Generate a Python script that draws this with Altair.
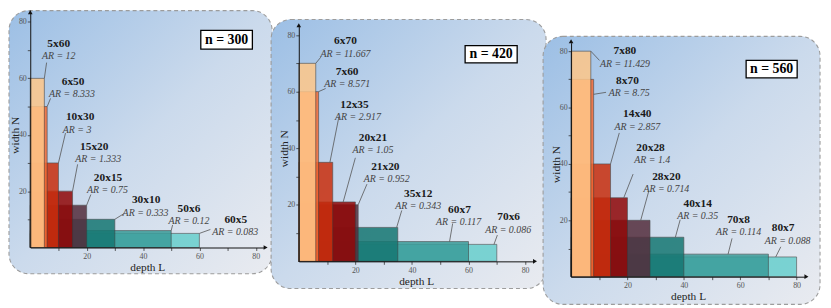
import altair as alt
import pandas as pd

# ---------------- data ----------------
panel_titles = ["n = 300", "n = 420", "n = 560"]

p1_L = [5, 6, 10, 15, 20, 30, 50, 60]
p1_N = [60, 50, 30, 20, 15, 10, 6, 5]
p1_AR = ["12", "8.333", "3", "1.333", "0.75", "0.333", "0.12", "0.083"]
p2_L = [6, 7, 12, 20, 21, 35, 60, 70]
p2_N = [70, 60, 35, 21, 20, 12, 7, 6]
p2_AR = ["11.667", "8.571", "2.917", "1.05", "0.952", "0.343", "0.117", "0.086"]
p3_L = [7, 8, 14, 20, 28, 40, 70, 80]
p3_N = [80, 70, 40, 28, 20, 14, 8, 7]
p3_AR = ["11.429", "8.75", "2.857", "1.4", "0.714", "0.35", "0.114", "0.088"]

tick_values = [10, 20, 30, 40, 50, 60, 70, 80]

bar_colors = ["#ffc789", "#f66b34", "#ca2f0e", "#910808", "#552e3d",
              "#167772", "#3b9d9a", "#68cfcd"]

# label anchors (data units)
p1_lx = [10.1, 15.2, 17.7, 22.7, 27.6, 41.1, 56.3, 72.9]
p1_ly = [72.2, 58.8, 46.2, 35.7, 24.8, 16.7, 13.8, 9.9]
p1_arx = [10.1, 14.8, 16.6, 24.1, 27.4, 40.9, 56.3, 72.7]
p1_sx = [5, 6, 10, 15, 20, 30, 50, 60]
p1_sy = [60, 50, 30, 20, 15, 10, 6, 5]
p1_ex = [5.8, 7.2, 12.5, 16.8, 21.5, 33.2, 50.5, 63.9]
p1_ey = [65.6, 52.9, 40.6, 29.5, 18.8, 12.0, 8.0, 6.4]

p2_lx = [16.5, 17.1, 19.7, 26.2, 30.6, 42.2, 56.8, 74.2]
p2_ly = [77.8, 67.0, 55.3, 43.6, 33.4, 23.8, 18.3, 15.5]
p2_arx = [16.5, 17.1, 20.9, 26.2, 31.1, 42.2, 56.5, 74.0]
p2_sx = [6, 7, 11, 15.7, 21, 34.6, 53.3, 69.0]
p2_sy = [70, 60, 35, 21, 20, 12, 7, 6]
p2_ex = [7.8, 9.5, 14.2, 20.0, 24.1, 36.4, 54.4, 70.2]
p2_ey = [72.2, 61.1, 51.2, 36.6, 27.3, 18.0, 13.4, 9.3]

p3_lx = [19.1, 20.0, 23.5, 28.2, 33.8, 44.9, 59.4, 75.2]
p3_ly = [80.0, 69.4, 57.6, 45.7, 35.4, 25.9, 20.2, 17.1]
p3_arx = [19.1, 20.6, 23.5, 28.8, 33.8, 44.9, 59.4, 76.8]
p3_sx = [7, 8, 14, 18.7, 24.7, 37.0, 55.7, 72.6]
p3_sy = [80, 64.7, 40, 28, 20, 14, 8, 7]
p3_ex = [10.1, 12.4, 17.1, 22.0, 27.6, 38.7, 57.1, 74.4]
p3_ey = [76.7, 65.4, 51.0, 36.4, 30.5, 20.2, 13.6, 10.6]

# "n = ..." box corners (data units): x1, x2, y1, y2
p1_box = [60.5, 78.8, 70.4, 77.0]
p2_box = [58.8, 77.2, 70.2, 76.3]
p3_box = [62.1, 80.2, 70.5, 76.7]

# ---------------- layout ----------------
H = 298
FONT = "Liberation Serif"
geo = [
    dict(w=265, ox=21.5, oy=239.5, s=2.85, bg=(0, 266, 0, 266)),
    dict(w=275, ox=28.0, oy=253.5, s=2.86, bg=(0, 278, 9, 281)),
    dict(w=283, ox=28.3, oy=269.0, s=2.85, bg=(0, 280, 26, 297)),
]
DMAX = 83

bg_fill = alt.LinearGradient(
    gradient="linear",
    stops=[alt.GradientStop(color="#9cbfe5", offset=0),
           alt.GradientStop(color="#cbdaec", offset=0.5),
           alt.GradientStop(color="#e9ebf0", offset=1)],
    x1=0, y1=0, x2=1, y2=1)


def panel(L, N, AR, lx, ly, arx, sx, sy, ex, ey, box, title, g):
    df = pd.DataFrame({
        "L": L, "N": N, "x0": 0, "y0": 0, "rank": list(range(len(L))),
        "name": [f"{a}x{b}" for a, b in zip(L, N)],
        "ar": ["AR = " + a for a in AR],
        "lx": lx, "ly": ly, "arx": arx, "sx": sx, "sy": sy, "ex": ex, "ey": ey,
    })
    sxs = alt.Scale(domain=[0, DMAX], range=[g["ox"], g["ox"] + DMAX * g["s"]])
    sys_ = alt.Scale(domain=[0, DMAX], range=[g["oy"], g["oy"] - DMAX * g["s"]])

    common_axis = dict(values=tick_values, grid=False, zindex=1,
                       labelExpr="datum.value % 20 == 0 ? datum.label : ''",
                       labelFont=FONT, labelFontSize=8, labelColor="#555",
                       titleFont=FONT, titleFontSize=11.5, titleFontWeight="normal",
                       titleColor="#222", domainColor="#111", domainWidth=1,
                       tickColor="#333", tickSize=3, tickWidth=0.8)
    ax_x = alt.Axis(title="depth L", offset=g["oy"] - H, titlePadding=1,
                    labelPadding=2, **common_axis)
    ax_y = alt.Axis(title="width N", offset=-g["ox"], labelPadding=1,
                    titleX=-14.5, titleY=g["oy"] - 40 * g["s"],
                    titleBaseline="middle", titleAngle=270, **common_axis)

    def X(f):
        return alt.X(f, type="quantitative", scale=sxs, axis=ax_x)

    def Y(f):
        return alt.Y(f, type="quantitative", scale=sys_, axis=ax_y)

    b = g["bg"]
    bg = alt.Chart(pd.DataFrame({"k": [0]})).mark_rect(
        fill=bg_fill, stroke="#9c9c9c", strokeDash=[4, 3], strokeWidth=1.1,
        cornerRadius=20).encode(
        x=alt.value(b[0]), x2=alt.value(b[1]), y=alt.value(b[2]), y2=alt.value(b[3]))

    bars = alt.Chart(df.iloc[::-1]).mark_rect(
        opacity=0.85, stroke="#3a3a3a", strokeWidth=0.8, strokeOpacity=0.8).encode(
        x=X("x0"), x2="L:Q", y=Y("y0"), y2="N:Q",
        color=alt.Color("rank:N", scale=alt.Scale(domain=list(range(8)), range=bar_colors),
                        legend=None),
    )

    leaders = alt.Chart(df).mark_rule(color="#555", strokeWidth=0.8).encode(
        x=X("sx"), y=Y("sy"), x2="ex:Q", y2="ey:Q")

    names = alt.Chart(df).mark_text(font=FONT, fontSize=11.5, fontWeight="bold",
                                    color="#1a1a1a", baseline="middle").encode(
        x=X("lx"), y=Y("ly"), text="name:N")
    ars = alt.Chart(df).mark_text(font=FONT, fontSize=10, fontStyle="italic",
                                  color="#444", baseline="middle", dy=12.5).encode(
        x=X("arx"), y=Y("ly"), text="ar:N")

    bdf = pd.DataFrame({"x1": [box[0]], "x2": [box[1]], "y1": [box[2]], "y2": [box[3]],
                        "t": [title]})
    boxr = alt.Chart(bdf).mark_rect(fill="white", stroke="black", strokeWidth=1.3).encode(
        x=X("x1"), x2="x2:Q", y=Y("y1"), y2="y2:Q")
    boxt = alt.Chart(bdf).transform_calculate(
        cx="(datum.x1 + datum.x2) / 2", cy="(datum.y1 + datum.y2) / 2").mark_text(
        font=FONT, fontSize=14, fontWeight="bold", color="black", baseline="middle").encode(
        x=X("cx"), y=Y("cy"), text="t:N")

    arrows = alt.Chart(pd.DataFrame({
        "ax": [DMAX + 0.5, 0], "ay": [0, DMAX + 0.5],
        "sh": ["triangle-right", "triangle-up"]})).mark_point(
        filled=True, color="#111", size=22, opacity=1).encode(
        x=X("ax"), y=Y("ay"), shape=alt.Shape("sh:N", scale=None))

    return alt.layer(bg, bars, leaders, names, ars, boxr, boxt, arrows).properties(
        width=g["w"], height=H)


c1 = panel(p1_L, p1_N, p1_AR, p1_lx, p1_ly, p1_arx, p1_sx, p1_sy, p1_ex, p1_ey,
           p1_box, panel_titles[0], geo[0])
c2 = panel(p2_L, p2_N, p2_AR, p2_lx, p2_ly, p2_arx, p2_sx, p2_sy, p2_ex, p2_ey,
           p2_box, panel_titles[1], geo[1])
c3 = panel(p3_L, p3_N, p3_AR, p3_lx, p3_ly, p3_arx, p3_sx, p3_sy, p3_ex, p3_ey,
           p3_box, panel_titles[2], geo[2])

chart = alt.hconcat(c1, c2, c3, spacing=0, bounds="flush").properties(
    padding=0).configure_view(stroke=None)

chart.save("out.html", embed_options={"renderer": "svg", "actions": False})
